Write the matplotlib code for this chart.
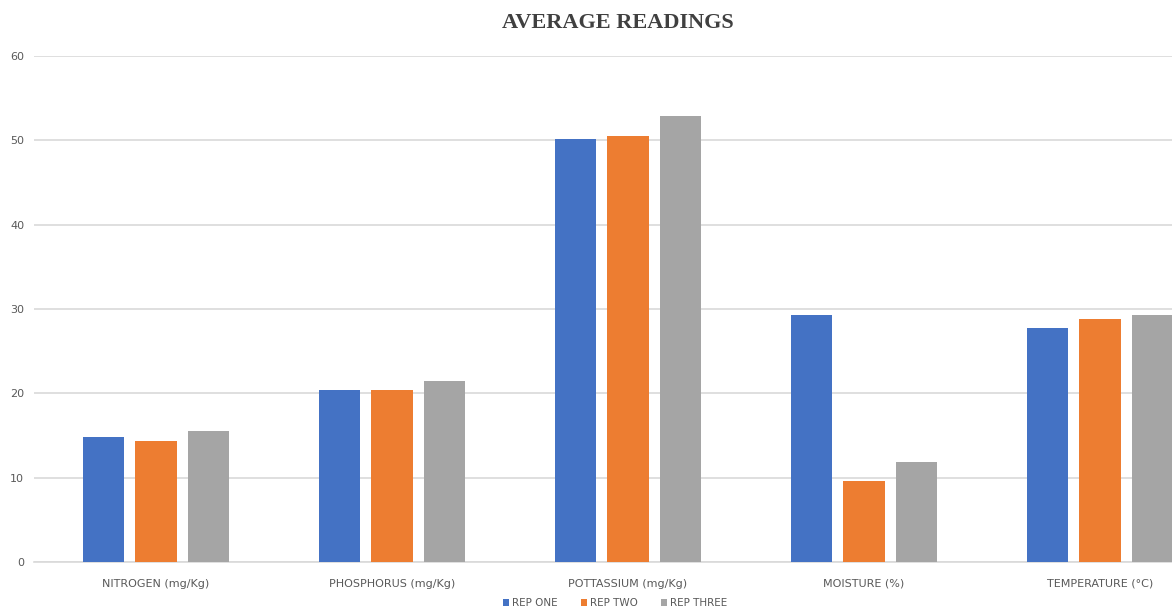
import numpy as np
import matplotlib.pyplot as plt

# Average readings per parameter for each replicate
parameters = ['NITROGEN (mg/Kg)', 'PHOSPHORUS (mg/Kg)', 'POTTASSIUM (mg/Kg)',
              'MOISTURE (%)', 'TEMPERATURE (°C)']
rep_one = [14.8, 20.4, 50.1, 29.3, 27.8]
rep_two = [14.4, 20.4, 50.5, 9.6, 28.8]
rep_three = [15.5, 21.5, 52.9, 11.9, 29.3]
series_names = ['REP ONE', 'REP TWO', 'REP THREE']
colors = ['#4472C4', '#ED7D31', '#A5A5A5']

text_grey = '#595959'
plt.rcParams['font.family'] = ['Liberation Sans Narrow', 'DejaVu Sans']

fig = plt.figure(figsize=(11.72, 6.16), dpi=100)
ax = fig.add_axes([34 / 1172, 1 - 562 / 616, 1 - 34 / 1172, (562 - 56) / 616])

x = np.arange(len(parameters))
width = 0.174
step = 0.221
for i, (vals, name, c) in enumerate(zip([rep_one, rep_two, rep_three], series_names, colors)):
    ax.bar(x + (i - 1) * step, vals, width, color=c, label=name, zorder=3)

ax.set_ylim(0, 60)
ax.set_xlim(-0.517, 4.305)
ax.set_yticks(range(0, 61, 10))
ax.yaxis.grid(True, color='#D9D9D9', linewidth=1.2, zorder=0)
ax.set_axisbelow(True)
for side in ['top', 'right', 'left']:
    ax.spines[side].set_visible(False)
ax.spines['bottom'].set_color('#D9D9D9')
ax.spines['bottom'].set_linewidth(1.2)
ax.tick_params(axis='both', length=0, colors=text_grey, labelsize=8)
ax.tick_params(axis='y', pad=7)
ax.tick_params(axis='x', pad=12)
ax.set_xticks(x)
ax.set_xticklabels(parameters)

fig.text(0.527, 0.962, 'AVERAGE READINGS', ha='center', va='center',
         fontsize=16, fontweight='bold', color='#404040', family='Liberation Serif')

fig.legend(loc='center', bbox_to_anchor=(0.525, 0.021), ncol=3, frameon=False,
           fontsize=7.5, handlelength=0.6, handleheight=0.6, handletextpad=0.3,
           columnspacing=2.2, labelcolor=text_grey)

fig.savefig('out.png', dpi=100)
